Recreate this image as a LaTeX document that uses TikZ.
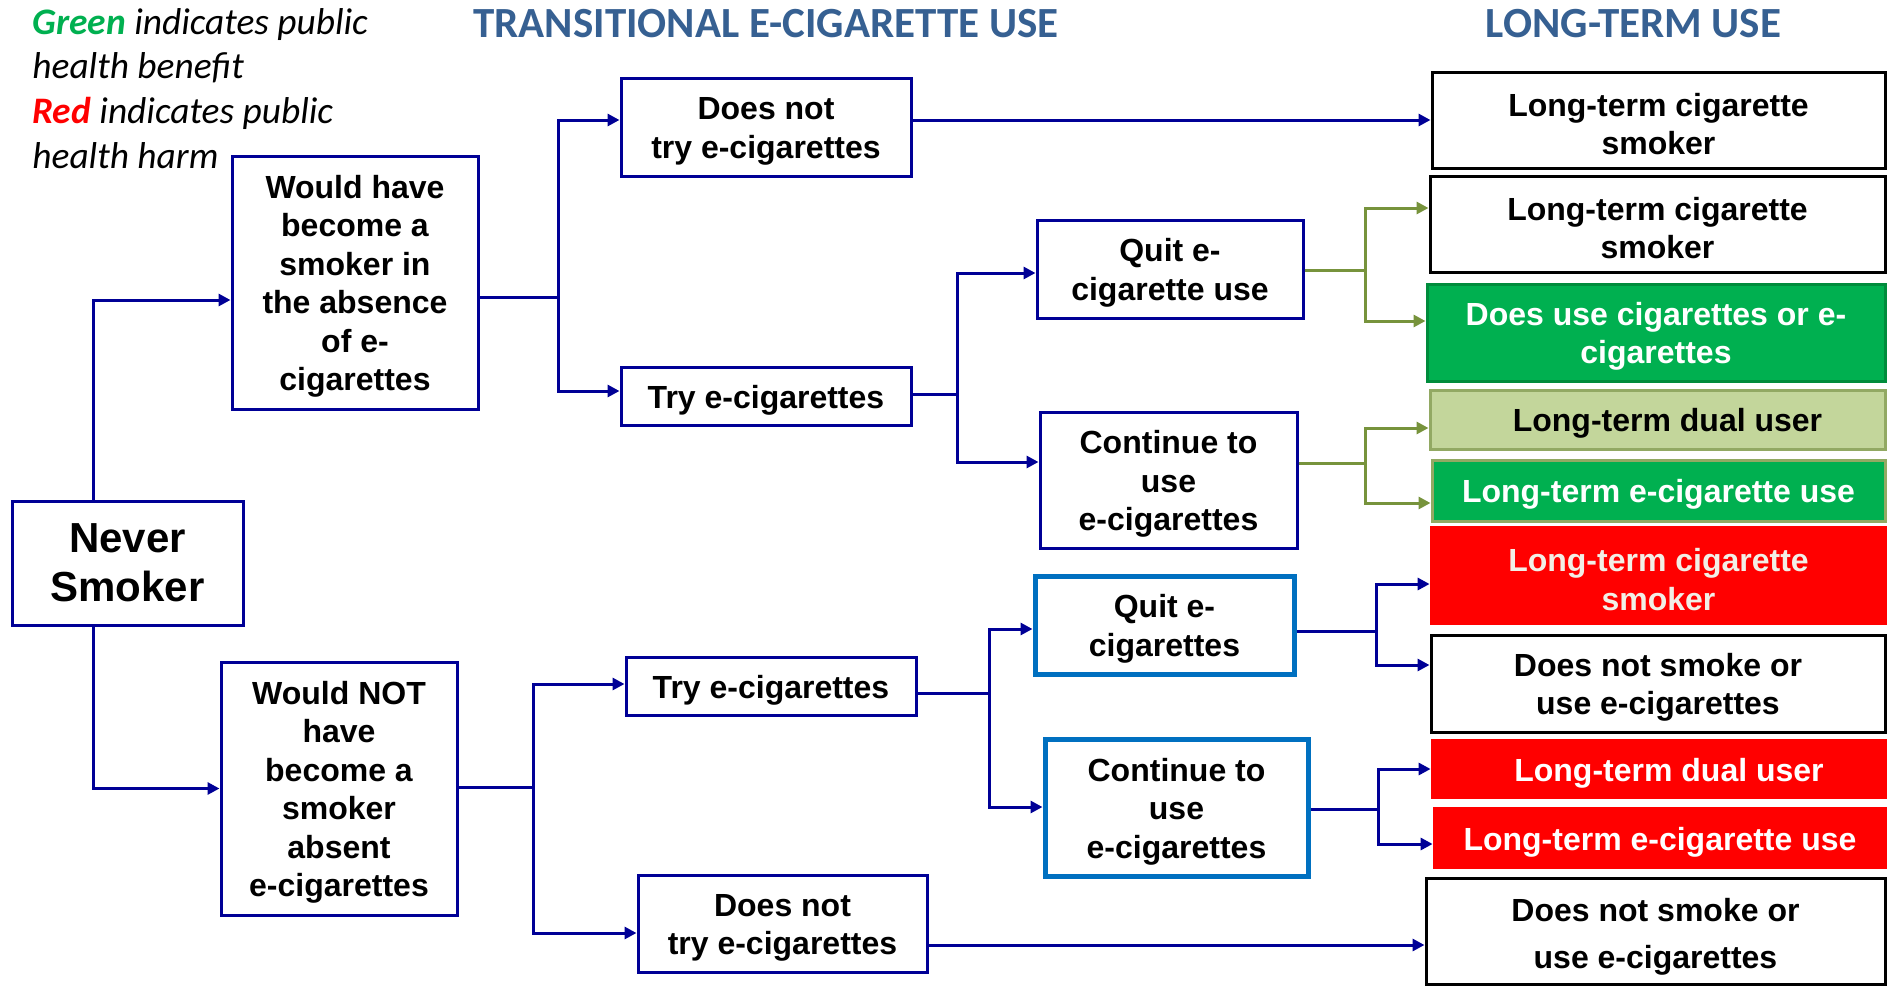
\documentclass[tikz,border=0pt]{standalone}
\usepackage{fontspec}
\setmainfont{Liberation Sans}
\newfontfamily\calfont{Carlito}
\usetikzlibrary{arrows.meta}
\definecolor{lnavy}{RGB}{0,0,150}
\definecolor{bblue}{RGB}{0,112,192}
\definecolor{olive}{RGB}{119,147,60}
\definecolor{pgreen}{RGB}{0,176,80}
\definecolor{dgreen}{RGB}{0,140,60}
\definecolor{lgreen}{RGB}{195,214,155}
\definecolor{pred}{RGB}{255,0,0}
\definecolor{headc}{RGB}{54,96,146}
\definecolor{cream}{RGB}{242,239,230}
\newcommand{\toppad}{\rule{0pt}{15.5pt}}
\newcommand{\tallpad}{\rule{0pt}{17.5pt}}
\tikzset{
  boxtext/.style={align=center, inner sep=0pt, text=black, font=\bfseries\fontsize{16}{19.25}\selectfont},
  lbox/.style={boxtext, draw=lnavy, line width=1.5pt},
  bbox/.style={boxtext, draw=bblue, line width=2.5pt},
  kbox/.style={boxtext, draw=black, line width=1.5pt},
  gbox/.style={boxtext, fill=pgreen, draw=dgreen, line width=1.5pt, text=white},
  lgbox/.style={boxtext, fill=lgreen, draw=olive!80, line width=1.5pt},
  g2box/.style={boxtext, fill=pgreen, draw=olive!80, line width=1.5pt, text=white},
  rbox/.style={boxtext, fill=pred, text=white},
  line/.style={draw=lnavy, line width=1.5pt},
  conn/.style={line, -{Triangle[length=6pt,width=6pt]}},
  oline/.style={draw=olive, line width=1.5pt},
  oconn/.style={oline, -{Triangle[length=6pt,width=6pt]}},
  legend/.style={anchor=base west, inner sep=0pt, font=\calfont\itshape\fontsize{18.7}{22}\selectfont},
  heading/.style={inner sep=0pt, text=headc, font=\calfont\bfseries\fontsize{21.5}{24}\selectfont}
}
\begin{document}
\begin{tikzpicture}[x=0.5pt,y=-0.5pt]
\useasboundingbox[fill=white] (0,0) rectangle (1887,986);

% legend and headings
\node[legend] (leg1) at (32,34) {\textcolor{pgreen}{\bfseries Green} indicates public};
\node[legend] (leg2) at (32,78) {health benefit};
\node[legend] (leg3) at (32,123) {\textcolor{pred}{\bfseries Red} indicates public};
\node[legend] (leg4) at (32,168) {health harm};
\node[heading] (h1) at (766,24) {TRANSITIONAL E-CIGARETTE USE};
\node[heading] (h2) at (1633.5,24) {LONG-TERM USE};

% left boxes
\node[lbox, minimum width=115.5pt, minimum height=62pt, font=\bfseries\fontsize{21}{24.5}\selectfont] (never) at (127.5,563) {Never\\Smoker};
\node[lbox, minimum width=123pt, minimum height=126.5pt] (wouldhave) at (355,282.5) {\toppad Would have\\become a\\smoker in\\the absence\\of e-\\cigarettes};
\node[lbox, minimum width=118pt, minimum height=126.5pt] (wouldnot) at (339,788.5) {\toppad Would NOT\\have\\become a\\smoker\\absent\\e-cigarettes};
\node[lbox, minimum width=145pt, minimum height=49pt] (dn1) at (766,127) {\toppad Does not\\try e-cigarettes};
\node[lbox, minimum width=145pt, minimum height=29pt] (try1) at (766,396) {\toppad Try e-cigarettes};
\node[lbox, minimum width=133pt, minimum height=49pt] (quit1) at (1170,269) {\toppad Quit e-\\cigarette use};
\node[lbox, minimum width=128.5pt, minimum height=68pt] (cont1) at (1168.5,480) {\toppad Continue to\\use\\e-cigarettes};
\node[lbox, minimum width=145pt, minimum height=29pt] (try2) at (771,686) {\toppad Try e-cigarettes};
\node[lbox, minimum width=144.5pt, minimum height=48.5pt] (dn2) at (782.5,923.5) {\toppad Does not\\try e-cigarettes};
\node[bbox, minimum width=129.5pt, minimum height=49pt] (quit2) at (1164.5,625) {\toppad Quit e-\\cigarettes};
\node[bbox, minimum width=131.5pt, minimum height=68.5pt] (cont2) at (1176.5,807.5) {\toppad Continue to\\use\\e-cigarettes};

% right column
\node[kbox, minimum width=226.5pt, minimum height=48pt] (R1) at (1658.5,120) {\toppad Long-term cigarette\\smoker};
\node[kbox, minimum width=227.5pt, minimum height=48pt] (R2) at (1657.5,224) {\toppad Long-term cigarette\\smoker};
\node[gbox, minimum width=229pt, minimum height=48.5pt] (R3) at (1656,332.5) {\toppad Does use cigarettes or e-\\cigarettes};
\node[lgbox, minimum width=227.5pt, minimum height=29.5pt] (R4) at (1657.5,419.5) {\toppad\hspace{10pt}Long-term dual user};
\node[g2box, minimum width=226.5pt, minimum height=30.5pt] (R5) at (1658.5,490.5) {\toppad Long-term e-cigarette use};
\node[rbox, minimum width=228.5pt, minimum height=49.5pt, text=cream] (R6) at (1658.5,575.5) {\toppad Long-term cigarette\\smoker};
\node[kbox, minimum width=227pt, minimum height=48.5pt] (R7) at (1658,683.5) {\toppad Does not smoke or\\use e-cigarettes};
\node[rbox, minimum width=228pt, minimum height=30pt] (R8) at (1659,769) {\toppad\hspace{10pt}Long-term dual user};
\node[rbox, minimum width=227pt, minimum height=31pt] (R9) at (1660,838) {\toppad Long-term e-cigarette use};
\node[kbox, minimum width=229.5pt, minimum height=53pt, font=\bfseries\fontsize{16}{23.5}\selectfont] (R10) at (1655.5,931) {\tallpad Does not smoke or\\use e-cigarettes};

% connectors
\draw[conn] (never.north -| 93,0) |- (wouldhave.west |- 0,300);
\draw[conn] (never.south -| 93,0) |- (wouldnot.west);

\coordinate (j1) at (558,297);
\draw[line] (wouldhave.east |- j1) -- (j1);
\draw[conn] (j1) |- (dn1.west |- 0,120);
\draw[conn] (j1) |- (try1.west |- 0,391);
\draw[conn] (dn1.east |- R1.west) -- (R1.west);

\coordinate (j2) at (957,394);
\draw[line] (try1.east |- j2) -- (j2);
\draw[conn] (j2) |- (quit1.west |- 0,273);
\draw[conn] (j2) |- (cont1.west |- 0,462);

\coordinate (j3) at (1365,270);
\draw[oline] (quit1.east |- j3) -- (j3);
\draw[oconn] (j3) |- (R2.west |- 0,208);
\draw[oconn] (j3) |- (R3.west |- 0,321);

\coordinate (j4) at (1365,463);
\draw[oline] (cont1.east |- j4) -- (j4);
\draw[oconn] (j4) |- (R4.west |- 0,428);
\draw[oconn] (j4) |- (R5.west |- 0,503);

\coordinate (j5) at (533,787);
\draw[line] (wouldnot.east |- j5) -- (j5);
\draw[conn] (j5) |- (try2.west |- 0,684);
\draw[conn] (j5) |- (dn2.west |- 0,933);

\coordinate (j6) at (989,693);
\draw[line] (try2.east |- j6) -- (j6);
\draw[conn] (j6) |- (quit2.west |- 0,629);
\draw[conn] (j6) |- (cont2.west |- 0,807);

\coordinate (j7) at (1376,631);
\draw[line] (quit2.east |- j7) -- (j7);
\draw[conn] (j7) |- (R6.west |- 0,584);
\draw[conn] (j7) |- (R7.west |- 0,665);

\coordinate (j8) at (1378,809);
\draw[line] (cont2.east |- j8) -- (j8);
\draw[conn] (j8) |- (R8.west |- 0,769);
\draw[conn] (j8) |- (R9.west |- 0,844);

\draw[conn] (dn2.east |- 0,945) -- (R10.west |- 0,945);
\end{tikzpicture}
\end{document}
